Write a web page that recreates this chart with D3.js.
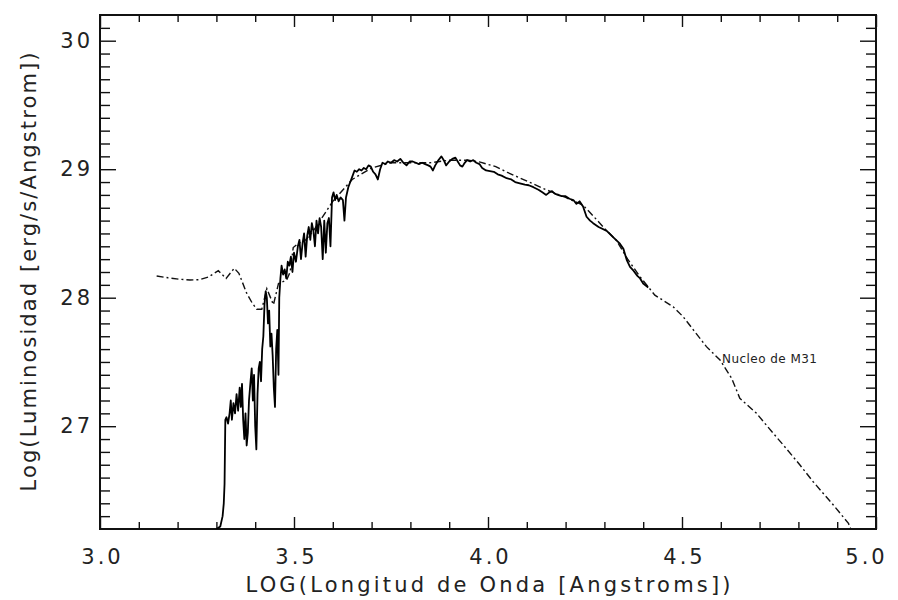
<!DOCTYPE html>
<html><head><meta charset="utf-8">
<script src="https://cdn.jsdelivr.net/npm/d3@7"></script>
<style>
html,body{margin:0;padding:0;background:#fff;}
svg{display:block;}
text{font-family:"DejaVu Sans","Liberation Sans",sans-serif;fill:#222;}
</style></head>
<body>
<svg id="chart" width="898" height="600"></svg>
<script>
// ---- data ----
const xMajorTicks = [3.0, 3.5, 4.0, 4.5, 5.0];
const xTickLabels = ["3.0", "3.5", "4.0", "4.5", "5.0"];
const yMajorTicks = [27, 28, 29, 30];
const yTickLabels = ["27", "28", "29", "30"];
const xTitle = "LOG(Longitud de Onda [Angstroms])";
const yTitle = "Log(Luminosidad [erg/s/Angstrom])";
const curveLabel = "Nucleo de M31";

// observed spectrum (solid)
const obsLogLambda = [3.300,3.310,3.316,3.319,3.321,3.322,3.323,3.326,3.330,3.334,3.337,3.340,3.344,3.348,3.352,3.356,3.360,3.363,3.366,3.369,3.372,3.375,3.378,3.381,3.384,3.388,3.391,3.394,3.397,3.400,3.403,3.406,3.409,3.412,3.415,3.418,3.421,3.424,3.427,3.430,3.433,3.436,3.439,3.442,3.445,3.448,3.451,3.454,3.457,3.460,3.462,3.465,3.468,3.472,3.476,3.480,3.484,3.488,3.492,3.496,3.500,3.505,3.510,3.514,3.518,3.522,3.526,3.530,3.534,3.538,3.542,3.546,3.550,3.554,3.558,3.562,3.566,3.570,3.574,3.578,3.582,3.586,3.590,3.594,3.598,3.602,3.606,3.610,3.615,3.620,3.626,3.630,3.634,3.640,3.645,3.650,3.656,3.662,3.668,3.674,3.680,3.686,3.692,3.698,3.704,3.710,3.716,3.722,3.728,3.735,3.742,3.750,3.758,3.766,3.774,3.782,3.790,3.798,3.806,3.814,3.822,3.830,3.838,3.846,3.852,3.858,3.864,3.872,3.880,3.886,3.892,3.900,3.908,3.916,3.922,3.928,3.934,3.940,3.946,3.954,3.962,3.970,3.978,3.985,3.995,4.005,4.015,4.025,4.035,4.048,4.060,4.070,4.082,4.095,4.105,4.117,4.130,4.140,4.150,4.158,4.165,4.172,4.180,4.190,4.200,4.210,4.220,4.228,4.236,4.245,4.254,4.263,4.271,4.285,4.306,4.323,4.340,4.349,4.358,4.366,4.375,4.385,4.392,4.400,4.413];
const obsLogLum = [26.20,26.22,26.30,26.40,26.55,26.80,27.05,27.07,27.02,27.10,27.20,27.05,27.18,27.10,27.25,27.12,27.30,27.15,27.33,27.05,26.90,27.10,26.85,26.95,27.20,27.35,27.45,27.20,27.40,27.00,26.82,27.25,27.45,27.50,27.35,27.60,27.70,27.95,28.05,28.00,27.80,27.90,27.62,27.72,27.55,27.30,27.15,27.60,27.75,27.40,28.00,28.15,28.25,28.18,28.22,28.15,28.28,28.25,28.32,28.20,28.35,28.28,28.40,28.45,28.30,28.42,28.50,28.32,28.48,28.55,28.45,28.58,28.52,28.40,28.60,28.50,28.62,28.55,28.30,28.60,28.35,28.58,28.62,28.40,28.78,28.82,28.76,28.80,28.75,28.78,28.76,28.60,28.78,28.86,28.90,28.94,28.99,28.98,29.00,28.99,29.01,29.00,29.03,29.02,28.98,28.96,28.92,29.00,29.05,29.04,29.06,29.05,29.07,29.06,29.08,29.05,29.03,29.06,29.06,29.05,29.04,29.05,29.04,29.03,29.02,28.99,29.03,29.07,29.10,29.07,29.03,29.06,29.08,29.09,29.06,29.03,29.02,29.05,29.07,29.06,29.07,29.05,29.04,29.01,28.99,28.985,28.98,28.96,28.95,28.93,28.92,28.90,28.89,28.88,28.875,28.86,28.84,28.82,28.80,28.82,28.83,28.81,28.80,28.79,28.79,28.77,28.76,28.73,28.75,28.71,28.63,28.60,28.58,28.55,28.52,28.47,28.42,28.38,28.29,28.24,28.21,28.17,28.15,28.11,28.08];

// model spectrum (dash-dot)
const modelLogLambda = [3.146,3.175,3.206,3.232,3.255,3.279,3.305,3.325,3.346,3.358,3.378,3.392,3.404,3.417,3.430,3.447,3.460,3.481,3.490,3.498,3.510,3.530,3.550,3.600,3.650,3.700,3.750,3.800,3.850,3.900,3.950,3.980,4.020,4.050,4.080,4.117,4.150,4.200,4.245,4.270,4.300,4.330,4.360,4.390,4.430,4.477,4.503,4.533,4.563,4.598,4.628,4.649,4.692,4.735,4.761,4.804,4.838,4.890,4.929,4.935];
const modelLogLum = [28.169,28.155,28.143,28.138,28.140,28.160,28.210,28.150,28.229,28.190,28.035,27.960,27.910,27.910,28.070,27.945,28.110,28.138,28.200,28.390,28.420,28.450,28.520,28.750,28.920,29.010,29.050,29.050,29.050,29.070,29.070,29.055,29.020,28.975,28.935,28.885,28.840,28.780,28.720,28.640,28.540,28.450,28.300,28.170,28.020,27.930,27.852,27.735,27.619,27.515,27.373,27.217,27.100,26.945,26.854,26.698,26.568,26.387,26.244,26.200];

// ---- layout ----
const M = {left:100, top:15, right:876, bottom:529};
const svg = d3.select("#chart");
const x = d3.scaleLinear().domain([3.0, 5.0]).range([M.left, M.right]);
const y = d3.scaleLinear().domain([26.2, 30.2]).range([M.bottom, M.top]);

const xMinor = d3.range(31, 50).map(d => d/10).filter(v => !xMajorTicks.some(m => Math.abs(m-v)<1e-6));
const yMinor = d3.range(263, 302).map(d => d/10).filter(v => !yMajorTicks.some(m => Math.abs(m-v)<1e-6));

svg.append("defs").append("clipPath").attr("id","plotclip")
  .append("rect").attr("x",M.left).attr("y",M.top).attr("width",M.right-M.left).attr("height",M.bottom-M.top);

function axisG(gen, tx, ty){
  const g = svg.append("g").attr("transform",`translate(${tx},${ty})`).call(gen);
  g.select(".domain").remove();
  g.selectAll(".tick line").attr("stroke","#111").attr("stroke-width",1.4);
  return g;
}
// bottom
axisG(d3.axisBottom(x).tickValues(xMinor).tickSize(-7).tickFormat(""), 0, M.bottom);
const xb = axisG(d3.axisBottom(x).tickValues(xMajorTicks).tickSize(-12).tickPadding(20)
  .tickFormat((d,i)=>xTickLabels[i]), 0, M.bottom);
xb.selectAll("text").attr("font-size",21).attr("letter-spacing",3).attr("fill","#222")
  .attr("dx",(d,i)=> i === xMajorTicks.length-1 ? -10 : 2);
// top
axisG(d3.axisTop(x).tickValues(xMinor).tickSize(-7).tickFormat(""), 0, M.top);
axisG(d3.axisTop(x).tickValues(xMajorTicks).tickSize(-12).tickFormat(""), 0, M.top);
// left
axisG(d3.axisLeft(y).tickValues(yMinor).tickSize(-10).tickFormat(""), M.left, 0);
const yl = axisG(d3.axisLeft(y).tickValues(yMajorTicks).tickSize(-16).tickPadding(7)
  .tickFormat((d,i)=>yTickLabels[i]), M.left, 0);
yl.selectAll("text").attr("font-size",21).attr("letter-spacing",3).attr("fill","#222");
// right
axisG(d3.axisRight(y).tickValues(yMinor).tickSize(-10).tickFormat(""), M.right, 0);
axisG(d3.axisRight(y).tickValues(yMajorTicks).tickSize(-16).tickFormat(""), M.right, 0);

// frame
svg.append("rect").attr("x",M.left).attr("y",M.top).attr("width",M.right-M.left).attr("height",M.bottom-M.top)
  .attr("fill","none").attr("stroke","#111").attr("stroke-width",2);

// curves
const obs = obsLogLambda.map((v,i)=>[v, obsLogLum[i]]);
const model = modelLogLambda.map((v,i)=>[v, modelLogLum[i]]);
const line = d3.line().x(d=>x(d[0])).y(d=>y(d[1]));
const plot = svg.append("g").attr("clip-path","url(#plotclip)");
plot.append("path").datum(model).attr("d",line).attr("fill","none")
  .attr("stroke","#111").attr("stroke-width",1.4).attr("stroke-dasharray","7,3,2,3");
plot.append("path").datum(obs).attr("d",line).attr("fill","none")
  .attr("stroke","#000").attr("stroke-width",1.8).attr("stroke-linejoin","round");

// curve label
svg.append("text").attr("x",722).attr("y",363).attr("font-size",12)
  .attr("textLength",95).attr("lengthAdjust","spacing").text(curveLabel);

// axis titles
svg.append("text").attr("x",(M.left+M.right)/2).attr("y",592).attr("text-anchor","middle")
  .attr("font-size",21).attr("textLength",485).attr("lengthAdjust","spacing").text(xTitle);
svg.append("text").attr("transform",`translate(36,${(M.top+M.bottom)/2}) rotate(-90)`)
  .attr("text-anchor","middle").attr("font-size",21)
  .attr("textLength",439).attr("lengthAdjust","spacing").text(yTitle);
</script>
</body></html>
